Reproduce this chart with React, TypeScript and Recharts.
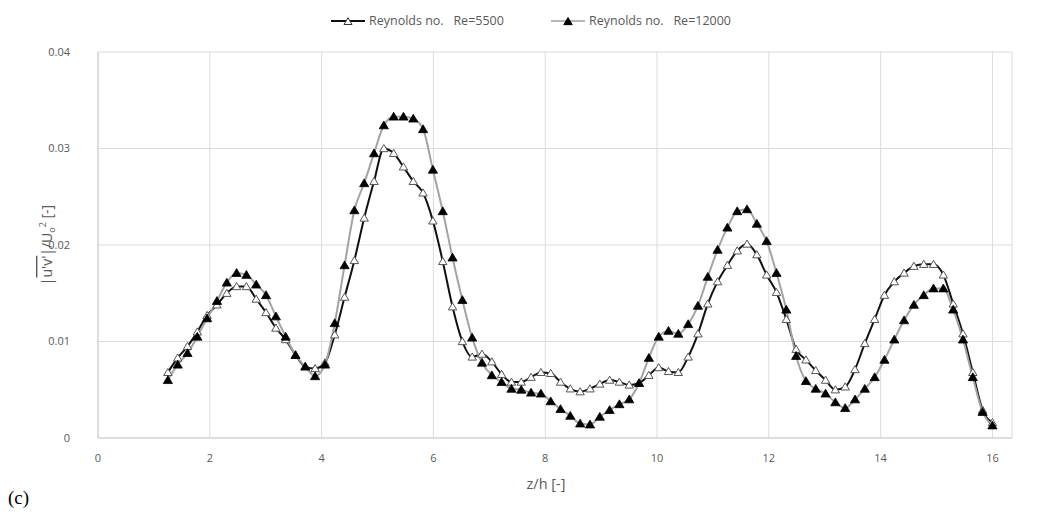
import React from "react";
import { LineChart, Line, XAxis, YAxis, CartesianGrid } from "recharts";

// z/h positions of the measurement points
const zh = [
  1.25, 1.426, 1.601, 1.777, 1.952, 2.128, 2.304, 2.479, 2.655, 2.83,
  3.006, 3.182, 3.357, 3.533, 3.708, 3.884, 4.06, 4.235, 4.411, 4.586,
  4.762, 4.938, 5.113, 5.289, 5.464, 5.64, 5.815, 5.991, 6.167, 6.342,
  6.518, 6.693, 6.869, 7.045, 7.22, 7.396, 7.571, 7.747, 7.923, 8.098,
  8.274, 8.449, 8.625, 8.801, 8.976, 9.152, 9.327, 9.503, 9.679, 9.854,
  10.03, 10.205, 10.381, 10.557, 10.732, 10.908, 11.083, 11.259, 11.435, 11.61,
  11.786, 11.961, 12.137, 12.313, 12.488, 12.664, 12.839, 13.015, 13.19, 13.366,
  13.542, 13.717, 13.893, 14.068, 14.244, 14.42, 14.595, 14.771, 14.946, 15.122,
  15.298, 15.473, 15.649, 15.824, 16.0,
];

// Reynolds no. Re=5500 (hollow triangles, black line)
const re5500 = [
  0.0068, 0.0083, 0.0095, 0.011, 0.0127, 0.0138, 0.015, 0.0157, 0.0157, 0.0144,
  0.013, 0.0114, 0.0102, 0.0086, 0.0074, 0.0072, 0.0078, 0.0107, 0.0146, 0.0184,
  0.0228, 0.0266, 0.03, 0.0295, 0.0281, 0.0266, 0.0254, 0.0225, 0.0183, 0.0136,
  0.01, 0.0084, 0.0087, 0.0079, 0.0066, 0.0058, 0.0058, 0.0063, 0.0068, 0.0067,
  0.0058, 0.0051, 0.0048, 0.0051, 0.0056, 0.006, 0.0058, 0.0055, 0.0057, 0.0065,
  0.0073, 0.0069, 0.0068, 0.0084, 0.0108, 0.0139, 0.0162, 0.0179, 0.0194, 0.0201,
  0.019, 0.0169, 0.0151, 0.0123, 0.0092, 0.0081, 0.007, 0.006, 0.005, 0.0053,
  0.0071, 0.0098, 0.0123, 0.0148, 0.0162, 0.0171, 0.0178, 0.018, 0.018, 0.0169,
  0.0139, 0.0108, 0.0068, 0.0029, 0.0016,
];

// Reynolds no. Re=12000 (filled triangles, grey line)
const re12000 = [
  0.006, 0.0076, 0.0088, 0.0105, 0.0124, 0.0142, 0.0161, 0.0171, 0.0169, 0.0159,
  0.0148, 0.0126, 0.0105, 0.0086, 0.0074, 0.0064, 0.0076, 0.0119, 0.0179, 0.0236,
  0.0264, 0.0295, 0.0324, 0.0333, 0.0333, 0.0331, 0.032, 0.0278, 0.0235, 0.0187,
  0.0143, 0.0104, 0.0078, 0.0065, 0.0058, 0.0051, 0.005, 0.0047, 0.0046, 0.0038,
  0.003, 0.0023, 0.0015, 0.0014, 0.0022, 0.0029, 0.0035, 0.004, 0.0057, 0.0083,
  0.0105, 0.0111, 0.0108, 0.0118, 0.0137, 0.0167, 0.0195, 0.0218, 0.0235, 0.0237,
  0.0222, 0.0204, 0.0171, 0.0133, 0.0085, 0.0059, 0.0051, 0.0046, 0.0037, 0.0031,
  0.004, 0.0051, 0.0063, 0.0081, 0.0102, 0.0122, 0.0138, 0.0148, 0.0155, 0.0155,
  0.0133, 0.0102, 0.0063, 0.0027, 0.0013,
];

const xTicks = [0, 2, 4, 6, 8, 10, 12, 14, 16];
const yTicks = [0, 0.01, 0.02, 0.03, 0.04];
const legendLabels = ["Reynolds no.   Re=5500", "Reynolds no.   Re=12000"];

const data = zh.map((z, i) => ({ z, a: re5500[i], b: re12000[i] }));

const FONT = "'Open Sans', 'DejaVu Sans', sans-serif";
const TXT = "#595959";

const tri = (cx: number, cy: number, s: number) =>
  `M${cx},${cy - s * 0.95} L${cx + s},${cy + s * 0.75} L${cx - s},${cy + s * 0.75} Z`;

const HollowDot = (props: any) => {
  const { cx, cy, index } = props;
  if (cx == null || cy == null) return <g key={`h${index}`} />;
  return <path key={`h${index}`} d={tri(cx, cy, 4.2)} fill="#ffffff" stroke="#555" strokeWidth={1} />;
};

const FilledDot = (props: any) => {
  const { cx, cy, index } = props;
  if (cx == null || cy == null) return <g key={`f${index}`} />;
  return <path key={`f${index}`} d={tri(cx, cy, 4.6)} fill="#000" stroke="#000" strokeWidth={0.8} />;
};

const YLabel = () => (
  <text
    transform="translate(52,245) rotate(-90)"
    textAnchor="middle"
    fill={TXT}
    fontFamily={FONT}
    fontSize={14}
  >
    <tspan>|</tspan>
    <tspan textDecoration="overline" style={{ textDecoration: "overline" }}>u'v'</tspan>
    <tspan>|/U</tspan>
    <tspan fontSize={9} dy={3}>o</tspan>
    <tspan fontSize={9} dy={-9}>2</tspan>
    <tspan dy={6}> [-]</tspan>
  </text>
);

const LegendIcon = ({ filled }: { filled: boolean }) => (
  <svg width={36} height={12} style={{ display: "block" }}>
    <line x1={1} y1={6} x2={35} y2={6} stroke={filled ? "#a0a0a0" : "#111"} strokeWidth={filled ? 1.5 : 2} />
    <path
      d={tri(18, 6.5, filled ? 4.2 : 4)}
      fill={filled ? "#000" : "#fff"}
      stroke={filled ? "#000" : "#333"}
      strokeWidth={1}
    />
  </svg>
);

const legendItem = (left: number, filled: boolean, label: string) => (
  <div
    style={{
      position: "absolute",
      left,
      top: 12,
      display: "flex",
      alignItems: "center",
      gap: 3,
      fontFamily: FONT,
      fontSize: 12.5,
      color: TXT,
      whiteSpace: "pre",
      lineHeight: "17px",
    }}
  >
    <LegendIcon filled={filled} />
    <span>{label}</span>
  </div>
);

export default function App() {
  return (
    <div
      style={{
        position: "absolute",
        left: 0,
        top: 0,
        width: 1041,
        height: 516,
        background: "#fff",
        overflow: "hidden",
      }}
    >
      <LineChart
        width={1041}
        height={516}
        data={data}
        margin={{ top: 52, right: 29, bottom: 48, left: 38 }}
      >
        <CartesianGrid stroke="#dcdcdc" strokeWidth={1} />
        <XAxis
          dataKey="z"
          type="number"
          domain={[0, 16.35]}
          ticks={xTicks}
          allowDataOverflow
          stroke={TXT}
          axisLine={{ stroke: "#d0d0d0" }}
          tickLine={false}
          tickMargin={10}
          tick={{ fill: TXT, fontSize: 11, fontFamily: FONT }}
          height={30}
        />
        <YAxis
          type="number"
          domain={[0, 0.04]}
          ticks={yTicks}
          width={60}
          stroke={TXT}
          axisLine={{ stroke: "#d0d0d0" }}
          tickLine={false}
          tickMargin={22}
          tick={{ fill: TXT, fontSize: 11, fontFamily: FONT }}
          tickFormatter={(v: number) => (v === 0 ? "0" : String(v))}
        />
        <Line
          type="monotone"
          dataKey="a"
          stroke="#111"
          strokeWidth={2}
          dot={HollowDot}
          activeDot={false}
          isAnimationActive={false}
        />
        <Line
          type="monotone"
          dataKey="b"
          stroke="#a3a3a3"
          strokeWidth={2}
          dot={FilledDot}
          activeDot={false}
          isAnimationActive={false}
        />
        <YLabel />
        <text x={546} y={489} textAnchor="middle" fill={TXT} fontFamily={FONT} fontSize={14.5}>
          z/h [-]
        </text>
        <text x={8} y={504} fill="#000" fontFamily="'Liberation Serif', serif" fontSize={19}>
          (c)
        </text>
      </LineChart>
      {legendItem(330, false, legendLabels[0])}
      {legendItem(550, true, legendLabels[1])}
    </div>
  );
}
